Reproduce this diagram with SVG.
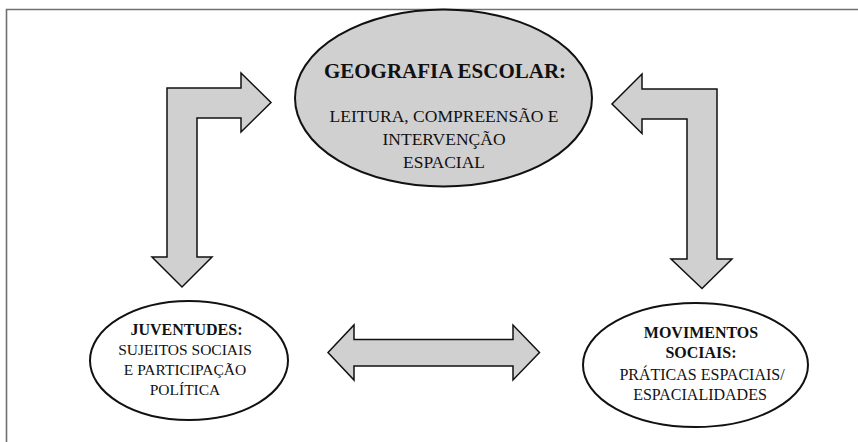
<svg xmlns="http://www.w3.org/2000/svg" width="858" height="442" viewBox="0 0 858 442">
<style>
  .frame{fill:none;stroke:#707070;stroke-width:1.6}
  .arrow{fill:#d0d0d0;stroke:#111;stroke-width:1.5;stroke-linejoin:miter}
  .ell-grey{fill:#d0d0d0;stroke:#111;stroke-width:2}
  .ell-white{fill:#fff;stroke:#111;stroke-width:2}
  text{font-family:"Liberation Serif","Times New Roman",serif;fill:#111;text-anchor:middle}
  .t1{font-size:21px;font-weight:bold}
  .t2{font-size:17.5px}
  .b{font-size:16px;font-weight:bold}
  .r{font-size:15.5px}
  .r2{font-size:16px}
</style>
<rect width="858" height="442" fill="#fff"/>
<path class="frame" d="M6.5,442 L6.5,9.5 L858,9.5"/>
<g id="connectors">
  <path id="arrow-left" class="arrow" d="M167,88 L241,88 L241,73 L271,102.5 L241,132 L241,118 L197,118 L197,257 L212,257 L182,287 L152,257 L167,257 Z"/>
  <path id="arrow-right" class="arrow" d="M717,89 L642,89 L642,74 L612,104 L642,133.5 L642,119 L687,119 L687,259 L671,259 L702,288.5 L732,259 L717,259 Z"/>
  <path id="arrow-double" class="arrow" d="M328,352.5 L354,325 L354,339.5 L513,339.5 L513,325 L539.5,352.5 L513,380 L513,366 L354,366 L354,380 Z"/>
</g>
<g id="geografia">
  <ellipse class="ell-grey" cx="443.5" cy="98" rx="148.5" ry="88.5"/>
  <text class="t1" x="445" y="78">GEOGRAFIA ESCOLAR:</text>
  <text class="t2" x="444" y="122">LEITURA, COMPREENSÃO E</text>
  <text class="t2" x="444" y="145">INTERVENÇÃO</text>
  <text class="t2" x="444" y="168">ESPACIAL</text>
</g>
<g id="juventudes">
  <ellipse class="ell-white" cx="189" cy="360.5" rx="99" ry="59.5"/>
  <text class="b" x="186.5" y="335">JUVENTUDES:</text>
  <text class="r" x="185" y="355">SUJEITOS SOCIAIS</text>
  <text class="r" x="185" y="375">E PARTICIPAÇÃO</text>
  <text class="r" x="185" y="395">POLÍTICA</text>
</g>
<g id="movimentos">
  <ellipse class="ell-white" cx="695.5" cy="365" rx="112.5" ry="62"/>
  <text class="b" x="701" y="338">MOVIMENTOS</text>
  <text class="b" x="701" y="358">SOCIAIS:</text>
  <text class="r2" x="702" y="380">PRÁTICAS ESPACIAIS/</text>
  <text class="r2" x="700" y="400">ESPACIALIDADES</text>
</g>
</svg>
